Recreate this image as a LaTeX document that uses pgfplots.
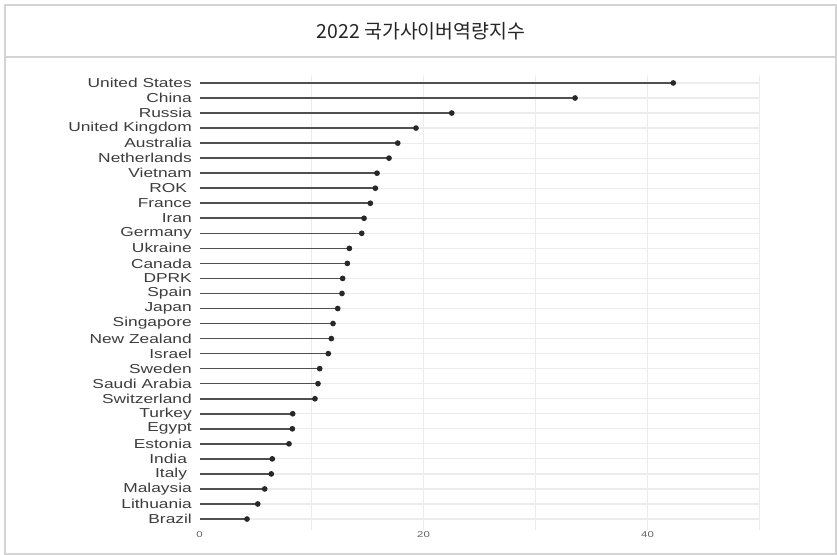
\documentclass[border=0pt]{standalone}
\usepackage{pgfplots}
\pgfplotsset{compat=1.18}
\usepackage{graphicx}
\usepackage{fontspec}
\setmainfont{Liberation Sans}
\newfontfamily\kr{Noto Sans CJK KR}
\definecolor{framec}{RGB}{211,211,211}
\definecolor{gridc}{RGB}{236,236,236}
\definecolor{stem}{RGB}{80,80,80}
\definecolor{dot}{RGB}{40,40,40}
\definecolor{lab}{RGB}{60,60,60}
\newcommand\wl[1]{\scalebox{1.34}[1]{#1}}

\begin{document}
\begin{tikzpicture}
\useasboundingbox (0,0) rectangle (837bp,555bp);
\draw[framec, line width=2bp] (5bp,1bp) rectangle (836bp,550bp);
\draw[framec, line width=2bp] (5bp,498bp) -- (836bp,498bp);
\node[font=\kr\fontsize{19.5}{20}\selectfont, text=black!85] at (421bp,524bp) {2022 국가사이버역량지수};
\begin{axis}[
  at={(199.5bp,25bp)}, anchor=south west,
  scale only axis, width=560bp, height=455bp,
  xmin=0, xmax=50, ymin=-0.73, ymax=29.53,
  axis line style={draw=none},
  major tick length=0pt, minor tick length=0pt,
  xtick={20,40}, xticklabels={\wl{20},\wl{40}},
  extra x ticks={0}, extra x tick labels={\wl{0}},
  extra x tick style={grid=none},
  minor xtick={10,30,50},
  xmajorgrids, xminorgrids, ymajorgrids,
  grid style={gridc, line width=1.2bp},
  minor grid style={gridc, line width=1.2bp},
  xticklabel style={font=\fontsize{8.5}{9}\selectfont, text=lab!80, inner sep=0pt, yshift=-1.5bp},
  ytick={0,...,29},
  yticklabels={\wl{Brazil},\wl{Lithuania},\wl{Malaysia},\wl{Italy~},\wl{India~},\wl{Estonia},\wl{Egypt},\wl{Turkey},\wl{Switzerland},\wl{Saudi Arabia},\wl{Sweden},\wl{Israel},\wl{New Zealand},\wl{Singapore},\wl{Japan},\wl{Spain},\wl{DPRK},\wl{Canada},\wl{Ukraine},\wl{Germany},\wl{Iran},\wl{France},\wl{ROK~},\wl{Vietnam},\wl{Netherlands},\wl{Australia},\wl{United Kingdom},\wl{Russia},\wl{China},\wl{United States}},
  yticklabel style={font=\fontsize{13}{14}\selectfont, text=lab, inner sep=0pt, anchor=east, xshift=-7.5bp},
]
\addplot[xcomb, stem, line width=1.6bp, mark=*, mark size=2bp, mark options={fill=dot, draw=dot}] coordinates {
  (4.24,0) (5.20,1) (5.82,2) (6.41,3) (6.50,4) (7.99,5) (8.29,6) (8.32,7)
  (10.31,8) (10.58,9) (10.73,10) (11.50,11) (11.77,12) (11.92,13) (12.34,14)
  (12.72,15) (12.78,16) (13.20,17) (13.38,18) (14.48,19) (14.69,20) (15.25,21)
  (15.70,22) (15.85,23) (16.92,24) (17.70,25) (19.33,26) (22.52,27) (33.53,28)
  (42.30,29)
};
\end{axis}
\end{tikzpicture}
\end{document}
